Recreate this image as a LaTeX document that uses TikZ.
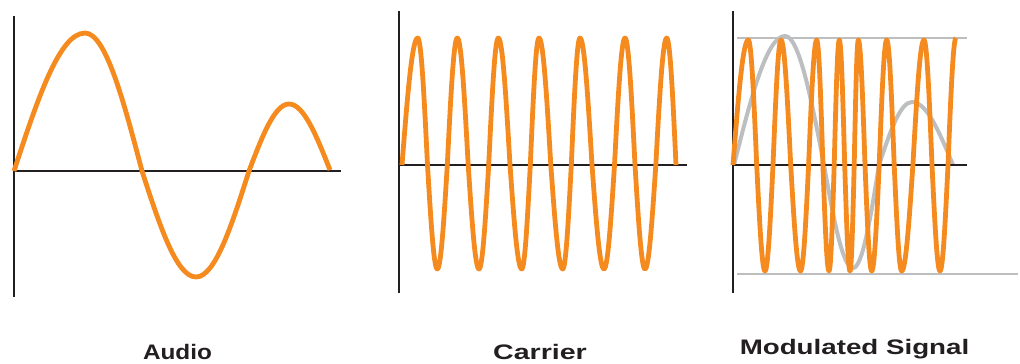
\documentclass[tikz,border=0pt]{standalone}
\usepackage{fontspec}
\setmainfont{Liberation Sans}
\usepackage{graphicx}
\definecolor{orng}{HTML}{F58A1F}
\definecolor{axisblack}{HTML}{231F20}
\definecolor{lgray}{HTML}{BCBEC0}
\tikzset{
  wave/.style={draw=orng, line width=4.8, line join=round},
  axisline/.style={draw=axisblack, line width=2.6},
  guideline/.style={draw=lgray, line width=2.6},
  envwave/.style={draw=lgray, line width=4, line join=round},
  lbl/.style={anchor=base, inner sep=0pt, font=\bfseries\fontsize{21}{24}\selectfont, text=axisblack},
}
\begin{document}
\begin{tikzpicture}[x=1pt,y=-1pt]
\useasboundingbox (0,0) rectangle (1020,364);
% ---------- Audio ----------
\draw[axisline] (14,16) -- (14,297);
\draw[axisline] (14,171) -- (341,171);
\draw[wave] (14,171) sin (85,33) cos (142,171) sin (196,277) cos (249,171) sin (289,104) cos (330,170);
% ---------- Carrier ----------
\draw[axisline] (399,11) -- (399,293);
\draw[axisline] (399,165) -- (687,165);
\draw[wave] (402,165) sin (417.7,38) cos (427.5,165) sin (437.3,269) cos (447.3,165)
  sin (457.3,38) cos (468.2,165) sin (479,269) cos (488.7,165)
  sin (498.3,38) cos (510,165) sin (521.7,269) cos (530.3,165)
  sin (539,38) cos (550.8,165) sin (562.7,269) cos (571.3,165)
  sin (580,38) cos (592,165) sin (604,269) cos (614.5,165)
  sin (625,38) cos (635,165) sin (645,269) cos (655.8,165)
  sin (666.7,38) cos (676,165);
% ---------- Modulated ----------
\draw[guideline] (737,38) -- (967,38);
\draw[guideline] (737,274) -- (1018,274);
\draw[envwave] (734,165) sin (785,36) cos (824,165) sin (853,268) cos (879,165) sin (912,102) cos (953,165);
\draw[axisline] (733,11) -- (733,293);
\draw[axisline] (733,165) -- (967,165);
\draw[wave] (733,165) sin (748.3,40) cos (756.7,165) sin (765,271) cos (773,165)
  sin (781,40) cos (790.7,165) sin (800.5,271) cos (808.6,165)
  sin (816.7,40) cos (822.9,165) sin (829,271) cos (834.2,165)
  sin (839.3,40) cos (844.7,165) sin (850,271) cos (854.2,165)
  sin (858.3,40) cos (865,165) sin (871.7,271) cos (879.2,165)
  sin (886.7,40) cos (894.2,165) sin (901.7,271) cos (912.9,165)
  sin (924,40) cos (932,165) sin (940,271) cos (948,165) sin (956,38);
% ---------- Labels ----------
\node[lbl] (audio) at (177.5,359) {\scalebox{1.16}[1]{Audio}};
\node[lbl] (carrier) at (540,359) {\scalebox{1.36}[1]{Carrier}};
\node[lbl] (modsig) at (854.5,354) {\scalebox{1.32}[1]{Modulated Signal}};
\end{tikzpicture}
\end{document}
